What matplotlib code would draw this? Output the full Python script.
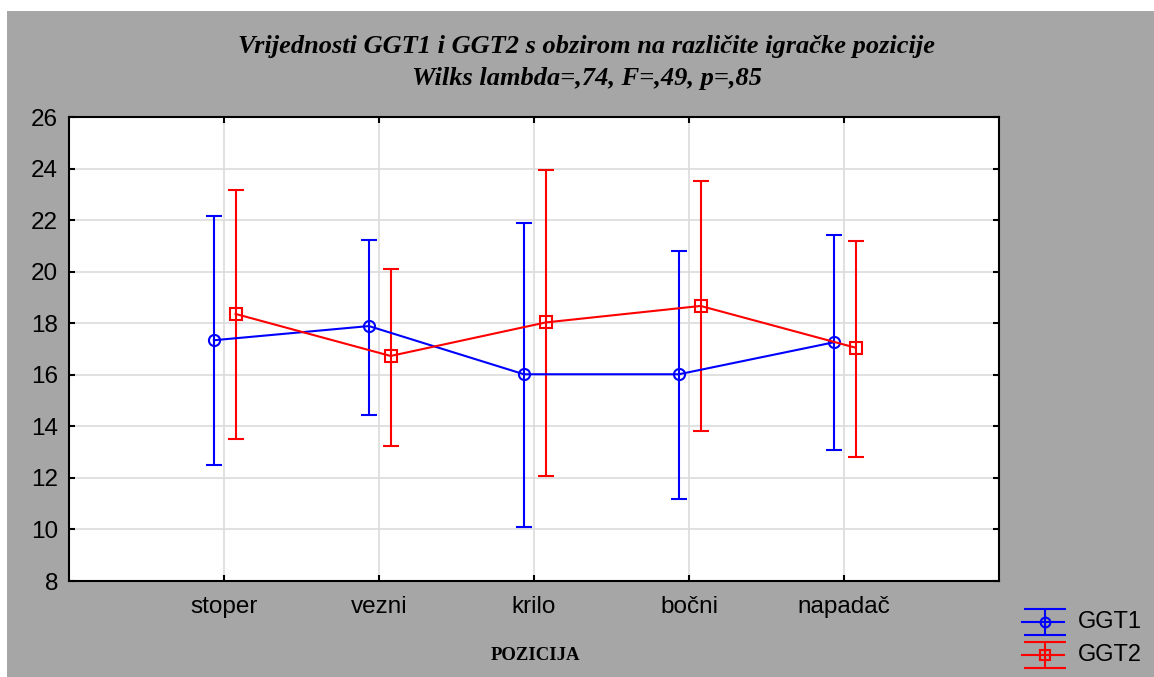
import matplotlib
matplotlib.use("Agg")
import matplotlib.pyplot as plt
from matplotlib.patches import Rectangle

# Data
positions = ["stoper", "vezni", "krilo", "bočni", "napadač"]
ggt1_mean = [17.34, 17.89, 16.02, 16.02, 17.26]
ggt1_low = [12.50, 14.43, 10.09, 11.18, 13.07]
ggt1_high = [22.16, 21.23, 21.90, 20.81, 21.41]
ggt2_mean = [18.36, 16.73, 18.03, 18.67, 17.05]
ggt2_low = [13.50, 13.24, 12.06, 13.82, 12.80]
ggt2_high = [23.17, 20.09, 23.93, 23.50, 21.20]
y_ticks = [8, 10, 12, 14, 16, 18, 20, 22, 24, 26]

BG = "#a6a6a6"
W, H = 1154, 677


def style_axes(ax):
    """ inward ticks on all four sides, black frame """
    for s in ax.spines.values():
        s.set_linewidth(1.5)
        s.set_color("black")
    ax.tick_params(direction="in", length=4, width=1.5, top=True, right=True,
                   labelsize=17.5, colors="black")
    return


fig = plt.figure(figsize=(W / 100, H / 100), dpi=100, facecolor="white")
fig.patches.append(Rectangle((7 / W, 0), 1 - 7 / W, 1 - 11 / H, transform=fig.transFigure,
                             facecolor=BG, edgecolor="none", zorder=-10))

ax = fig.add_axes([69 / W, 1 - 581 / H, 930 / W, 464 / H])
ax.set_facecolor("white")

x = list(range(1, len(positions) + 1))
x1 = [v - 0.065 for v in x]
x2 = [v + 0.075 for v in x]
err1 = [[m - lo for m, lo in zip(ggt1_mean, ggt1_low)], [hi - m for m, hi in zip(ggt1_mean, ggt1_high)]]
err2 = [[m - lo for m, lo in zip(ggt2_mean, ggt2_low)], [hi - m for m, hi in zip(ggt2_mean, ggt2_high)]]

kw = dict(capsize=5.5, elinewidth=1.5, capthick=1.5, lw=1.5, markersize=8,
          mfc="none", mew=1.5, zorder=3)
ax.errorbar(x1, ggt1_mean, yerr=err1, color="#0000ff", marker="o", **kw)
ax.errorbar(x2, ggt2_mean, yerr=err2, color="#ff0000", marker="s", **kw)

ax.set_xlim(0, 6)
ax.set_ylim(8, 26)
ax.set_xticks(x)
ax.set_xticklabels(positions, fontfamily="Liberation Sans")
ax.set_yticks(y_ticks)
ax.set_yticklabels([str(t) for t in y_ticks], fontfamily="Liberation Sans")
ax.grid(True, color="#dcdcdc", lw=1.2, zorder=0)
ax.set_axisbelow(True)
style_axes(ax)
ax.tick_params(axis="x", pad=11)
ax.tick_params(axis="y", pad=8)

# Titles
title_font = dict(fontfamily="Liberation Serif", fontweight="bold", fontstyle="italic",
                  fontsize=19, ha="center", va="center")
fig.text(587 / W, 1 - 46 / H, "Vrijednosti GGT1 i GGT2 s obzirom na različite igračke pozicije", **title_font)
fig.text(587 / W, 1 - 78 / H, "Wilks lambda=,74, F=,49, p=,85", **title_font)
fig.text(535 / W, 1 - 655 / H, "POZICIJA", fontfamily="Liberation Serif", fontweight="bold",
         fontsize=13.5, ha="center", va="center")

# Legend drawn by hand in its own little axes
lax = fig.add_axes([1015 / W, 1 - 672 / H, 60 / W, 68 / H])
lax.set_xlim(0, 1)
lax.set_ylim(0, 1)
lax.axis("off")
legend_items = [("GGT1", "#0000ff", "o", 0.74, 622), ("GGT2", "#ff0000", "s", 0.25, 655)]
for name, col, mk, yy, ty in legend_items:
    lax.errorbar([0.5], [yy], yerr=[[0.19], [0.19]], color=col, marker=mk, capsize=15,
                 elinewidth=1.5, capthick=1.5, markersize=7, mfc="none", mew=1.5)
    lax.plot([0.12, 0.82], [yy, yy], color=col, lw=1.5)
    fig.text(1078 / W, 1 - ty / H, name,
             fontfamily="Liberation Sans", fontsize=17, va="center", ha="left")

plt.savefig("out.png", dpi=100, facecolor=fig.get_facecolor())
